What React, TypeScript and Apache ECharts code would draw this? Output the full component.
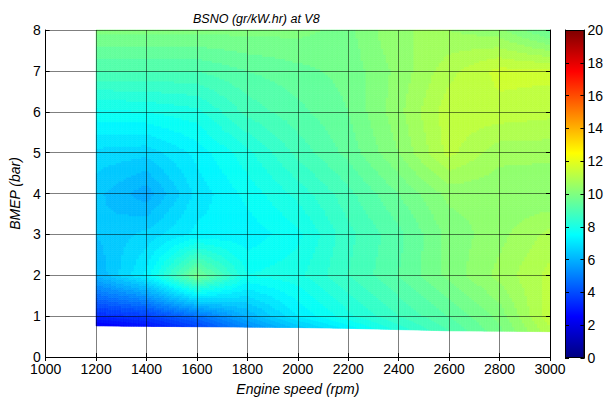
import React, { useEffect, useRef } from "react";
import * as echarts from "echarts";

// Engine speeds (rpm) of the measured grid columns
const speeds = [1200, 1400, 1600, 1800, 2000, 2200, 2400, 2600, 2800, 3000];
// Lowest BMEP (bar) measured at each speed
const bmepMin = [0.76, 0.75, 0.74, 0.73, 0.72, 0.7, 0.67, 0.64, 0.63, 0.62];
// BMEP levels (bar) of the upper grid rows
const bmepLevels = [1, 2, 3, 4, 5, 6, 7, 8];
// BSNO (gr/kW.hr) values, one row per BMEP level (first row = lowest BMEP)
const bsnoMin = [2.3, 2.8, 3.8, 5.2, 6.4, 7.3, 8.2, 9.0, 9.8, 11.0];
const bsno1 = [3.3, 3.7, 4.7, 6.0, 7.2, 8.0, 8.7, 9.3, 10.0, 11.3];
const bsno2 = [6.0, 7.3, 9.8, 7.8, 8.0, 8.7, 9.3, 10.0, 10.6, 11.2];
const bsno3 = [6.3, 6.7, 7.3, 7.3, 7.7, 8.6, 9.2, 10.0, 10.4, 10.9];
const bsno4 = [6.4, 5.8, 7.0, 7.6, 8.2, 8.9, 9.6, 10.3, 10.3, 10.2];
const bsno5 = [6.8, 6.7, 7.3, 8.0, 8.8, 9.4, 10.2, 11.2, 10.6, 10.6];
const bsno6 = [7.7, 7.8, 8.0, 8.8, 9.2, 9.6, 10.4, 11.3, 11.3, 11.2];
const bsno7 = [9.0, 9.0, 9.0, 9.3, 9.5, 9.7, 10.3, 11.0, 11.5, 11.5];
const bsno8 = [10.0, 10.0, 10.0, 10.0, 10.0, 9.8, 10.5, 10.5, 10.3, 9.5];
// Axis ticks
const xTicks = { min: 1000, max: 3000, interval: 200 };
const yTicks = { min: 0, max: 8, interval: 1 };
const cbTicks = { min: 0, max: 20, interval: 2 };

const rows = [bsnoMin, bsno1, bsno2, bsno3, bsno4, bsno5, bsno6, bsno7, bsno8];
const FONT = "Liberation Sans, Arial, sans-serif";

function jet(t: number): string {
  t = Math.max(0, Math.min(1, t));
  const r = Math.max(0, Math.min(1, Math.min(4 * t - 1.5, -4 * t + 4.5)));
  const g = Math.max(0, Math.min(1, Math.min(4 * t - 0.5, -4 * t + 3.5)));
  const b = Math.max(0, Math.min(1, Math.min(4 * t + 0.5, -4 * t + 2.5)));
  return `rgb(${Math.round(r * 255)},${Math.round(g * 255)},${Math.round(b * 255)})`;
}
function colorOf(v: number): string {
  const step = 0.3;
  const q = (Math.floor(v / step) + 0.5) * step;
  return jet((q - cbTicks.min) / (cbTicks.max - cbTicks.min));
}
function rowY(r: number, i: number): number {
  return r === 0 ? bmepMin[i] : bmepLevels[r - 1];
}
const plain = (v: number) => String(v);

export default function App() {
  const ref = useRef<HTMLDivElement>(null);
  useEffect(() => {
    if (!ref.current) return;
    const chart = echarts.init(ref.current, undefined, { renderer: "svg" });
    const cells: number[][] = [];
    for (let i = 0; i < speeds.length - 1; i++) {
      for (let r = 0; r < rows.length - 1; r++) cells.push([speeds[i], r, i]);
    }
    const N = 20;
    const jetStops = [
      { offset: 0, color: "rgb(0,0,128)" },
      { offset: 0.125, color: "rgb(0,0,255)" },
      { offset: 0.375, color: "rgb(0,255,255)" },
      { offset: 0.625, color: "rgb(255,255,0)" },
      { offset: 0.875, color: "rgb(255,0,0)" },
      { offset: 1, color: "rgb(128,0,0)" },
    ];
    const axisCommon = {
      axisLine: { show: true, lineStyle: { color: "#000", width: 1 } },
      axisTick: { show: true, inside: true, length: 4, lineStyle: { color: "#000" } },
    };
    chart.setOption({
      animation: false,
      backgroundColor: "#fff",
      title: {
        text: "BSNO (gr/kW.hr) at V8",
        left: 188,
        top: 7,
        textStyle: { fontFamily: FONT, fontSize: 12.5, fontStyle: "italic", fontWeight: "normal", color: "#000" },
      },
      grid: [
        { left: 42, right: 56, top: 30, bottom: 47 },
        { left: 565, width: 20, top: 30, bottom: 46 },
      ],
      xAxis: [
        {
          type: "value", gridIndex: 0, ...xTicks, z: 5, ...axisCommon,
          name: "Engine speed (rpm)", nameLocation: "middle", nameGap: 25,
          nameTextStyle: { fontFamily: FONT, fontSize: 14, fontStyle: "italic", color: "#000" },
          axisLabel: { fontFamily: FONT, fontSize: 14, color: "#000", margin: 5, formatter: plain },
          splitLine: { show: true, lineStyle: { color: "rgba(0,0,0,0.5)", width: 1 } },
        },
        {
          type: "value", gridIndex: 0, position: "top", ...xTicks, z: 5, ...axisCommon,
          axisLabel: { show: false }, splitLine: { show: false },
        },
        { type: "category", gridIndex: 1, data: [""], show: false },
      ],
      yAxis: [
        {
          type: "value", gridIndex: 0, ...yTicks, z: 5, ...axisCommon,
          name: "BMEP (bar)", nameLocation: "middle", nameGap: 20,
          nameTextStyle: { fontFamily: FONT, fontSize: 14, fontStyle: "italic", color: "#000" },
          axisLabel: { fontFamily: FONT, fontSize: 14, color: "#000", margin: 5, formatter: plain },
          splitLine: { show: true, lineStyle: { color: "rgba(0,0,0,0.5)", width: 1 } },
        },
        {
          type: "value", gridIndex: 0, position: "right", ...yTicks, z: 5, ...axisCommon,
          axisLabel: { show: false }, splitLine: { show: false },
        },
        {
          type: "value", gridIndex: 1, position: "right", ...cbTicks, z: 5, ...axisCommon,
          axisLabel: { fontFamily: FONT, fontSize: 14, color: "#000", margin: 3, formatter: plain },
          splitLine: { show: false },
        },
        {
          type: "value", gridIndex: 1, position: "left", ...cbTicks, z: 5, ...axisCommon,
          axisLabel: { show: false }, splitLine: { show: false },
        },
      ],
      series: [
        {
          type: "custom",
          xAxisIndex: 0,
          yAxisIndex: 0,
          data: cells,
          z: 2,
          renderItem: (params: any, api: any) => {
            const i = api.value(2);
            const r = api.value(1);
            const x0 = speeds[i], x1 = speeds[i + 1];
            const yl0 = rowY(r, i), yl1 = rowY(r, i + 1);
            const yh0 = rowY(r + 1, i), yh1 = rowY(r + 1, i + 1);
            const v00 = rows[r][i], v10 = rows[r][i + 1], v01 = rows[r + 1][i], v11 = rows[r + 1][i + 1];
            const pos = (u: number, v: number) => {
              const x = x0 + u * (x1 - x0);
              const ylo = yl0 + u * (yl1 - yl0);
              const yhi = yh0 + u * (yh1 - yh0);
              return api.coord([x, ylo + v * (yhi - ylo)]);
            };
            const children: any[] = [];
            for (let a = 0; a < N; a++) {
              for (let b = 0; b < N; b++) {
                const u0 = a / N, u1 = (a + 1) / N, w0 = b / N, w1 = (b + 1) / N;
                const uc = (a + 0.5) / N, wc = (b + 0.5) / N;
                const val = v00 * (1 - uc) * (1 - wc) + v10 * uc * (1 - wc) + v01 * (1 - uc) * wc + v11 * uc * wc;
                const c = colorOf(val);
                children.push({
                  type: "polygon",
                  shape: { points: [pos(u0, w0), pos(u1, w0), pos(u1, w1), pos(u0, w1)] },
                  style: { fill: c, stroke: c, lineWidth: 0.6 },
                });
              }
            }
            return { type: "group", children };
          },
        },
        {
          type: "bar",
          xAxisIndex: 2,
          yAxisIndex: 2,
          data: [cbTicks.max],
          barWidth: "100%",
          z: 2,
          itemStyle: {
            color: new echarts.graphic.LinearGradient(0, 1, 0, 0, jetStops),
            borderColor: "#000",
            borderWidth: 1,
          },
        },
      ],
    });
    return () => chart.dispose();
  }, []);
  return <div ref={ref} style={{ width: 606, height: 404, position: "absolute", left: 0, top: 0 }} />;
}
